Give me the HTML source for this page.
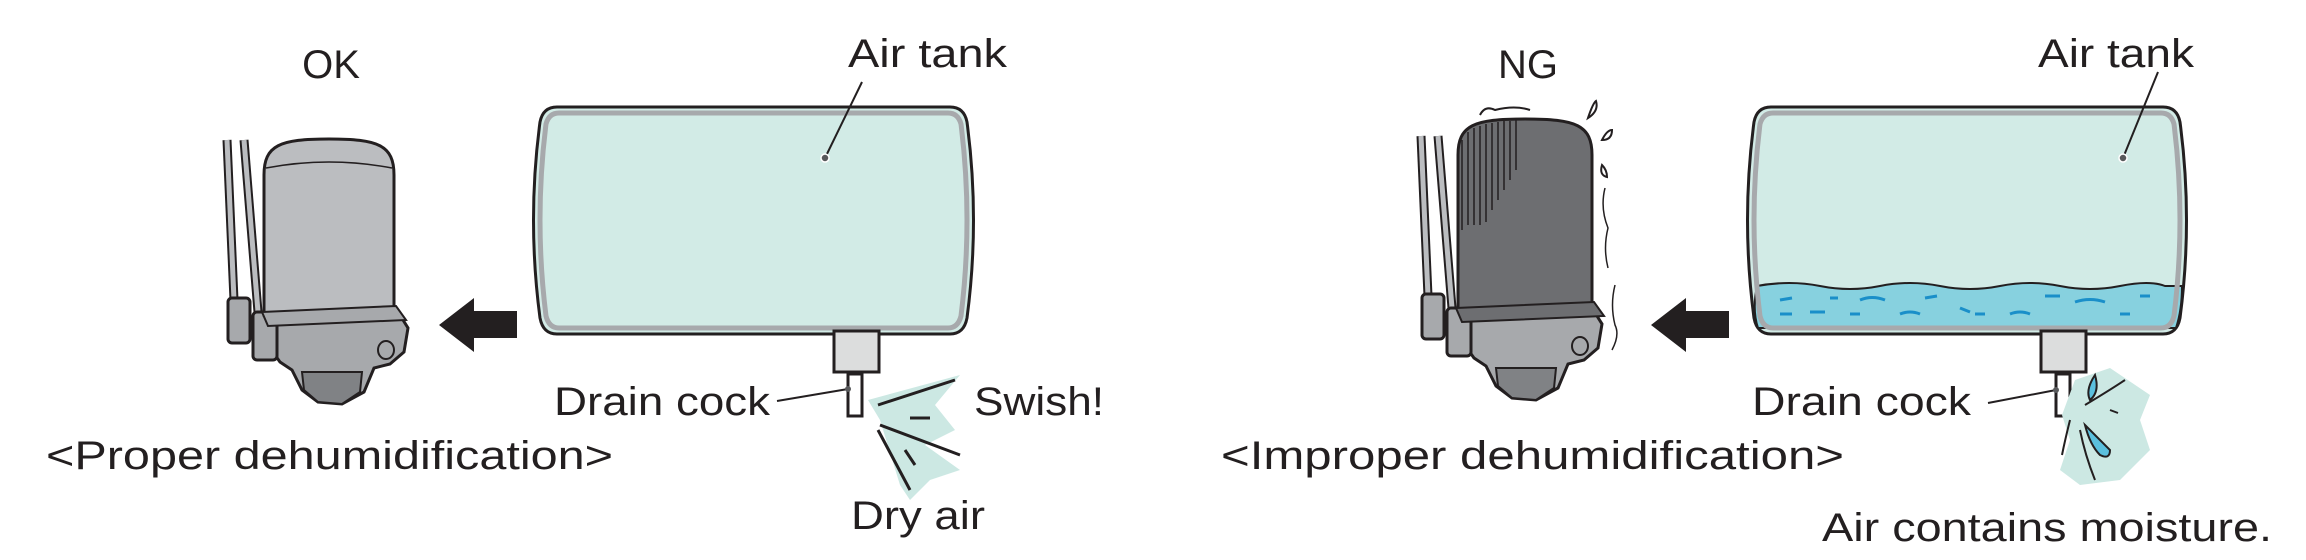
<!DOCTYPE html>
<html><head><meta charset="utf-8"><style>
html,body{margin:0;padding:0;background:#fff;}
svg{display:block;}
text{font-family:"Liberation Sans",sans-serif;font-size:40px;fill:#231f20;}
</style></head><body>
<svg width="2306" height="560" viewBox="0 0 2306 560" xmlns="http://www.w3.org/2000/svg">
<defs>
<g id="pipes">
  <path d="M227,140 L234,300" stroke="#231f20" stroke-width="9" fill="none"/>
  <path d="M227,140 L234,300" stroke="#bbbdc0" stroke-width="5" fill="none"/>
  <path d="M244,140 L258,312" stroke="#231f20" stroke-width="9" fill="none"/>
  <path d="M244,140 L258,312" stroke="#bbbdc0" stroke-width="5" fill="none"/>
</g>
<g id="filterbase">
  <path d="M268,318 L398,312 L408,328 L404,352 L390,364 L374,368 L364,392 L342,404 L318,402 L302,390 L292,370 L280,362 L270,348 Z" fill="#a7a9ac" stroke="#231f20" stroke-width="3"/>
  <path d="M302,372 L362,372 L360,392 L342,404 L318,402 L304,390 Z" fill="#808285" stroke="#231f20" stroke-width="2"/>
  <rect x="228" y="298" width="22" height="45" rx="4" fill="#a7a9ac" stroke="#231f20" stroke-width="3"/>
  <rect x="253" y="312" width="24" height="48" rx="4" fill="#a7a9ac" stroke="#231f20" stroke-width="3"/>
  <ellipse cx="386" cy="350" rx="8" ry="9" fill="none" stroke="#231f20" stroke-width="2"/>
  <circle cx="300" cy="318" r="3" fill="#231f20"/><circle cx="330" cy="316" r="3" fill="#231f20"/><circle cx="360" cy="314" r="3" fill="#231f20"/><circle cx="390" cy="313" r="3" fill="#231f20"/>
</g>
</defs>

<!-- LEFT -->
<text x="331" y="78" text-anchor="middle">OK</text>
<text x="848" y="67" textLength="159" lengthAdjust="spacingAndGlyphs">Air tank</text>
<path d="M557,107 L950,107 Q964,107 967,122 Q980,220 967,318 Q964,334 950,334 L557,334 Q543,334 540,318 Q527,220 540,122 Q543,107 557,107 Z" fill="#d2ebe6" stroke="#231f20" stroke-width="3"/>
<path d="M559,113 L948,113 Q958,113 961,124 Q973,220 961,316 Q958,328 948,328 L559,328 Q549,328 546,316 Q534,220 546,124 Q549,113 559,113 Z" fill="none" stroke="#a7a9ac" stroke-width="5"/>
<path d="M862,82 L825,158" stroke="#231f20" stroke-width="2"/>
<circle cx="825" cy="158" r="4" fill="#58595b" stroke="#fff" stroke-width="1.5"/>
<rect x="834" y="331" width="45" height="41" fill="#dcdddd" stroke="#231f20" stroke-width="3"/>
<rect x="848" y="374" width="14" height="42" fill="#fff" stroke="#231f20" stroke-width="3"/>
<path d="M777,401 L848,389" stroke="#231f20" stroke-width="2"/>
<circle cx="848" cy="389" r="3" fill="#58595b"/>
<path d="M868,400 L960,375 L935,405 L955,430 L925,445 L960,470 L930,480 L920,490 L910,500 L900,485 L880,420 Z" fill="#cce8e3"/>
<path d="M878,405 L955,380 M910,418 L930,418 M880,425 L960,455 M878,430 L910,490 M905,450 L915,465" stroke="#231f20" stroke-width="3"/>
<text x="554" y="415" textLength="216" lengthAdjust="spacingAndGlyphs">Drain cock</text>
<text x="974" y="415" textLength="130" lengthAdjust="spacingAndGlyphs">Swish!</text>
<text x="851" y="529" textLength="134" lengthAdjust="spacingAndGlyphs">Dry air</text>
<text x="46" y="469" textLength="567" lengthAdjust="spacingAndGlyphs">&lt;Proper dehumidification&gt;</text>
<path d="M517,311 L474,311 L474,298 L439,325 L474,352 L474,338 L517,338 Z" fill="#231f20"/>
<use href="#pipes"/>
<use href="#filterbase"/>
<path d="M264,315 L264,175 C264,145 280,139 329,139 C378,139 394,145 394,175 L394,310 Z" fill="#bbbdc0" stroke="#231f20" stroke-width="3"/>
<path d="M266,168 Q329,156 392,168" stroke="#231f20" stroke-width="1.5" fill="none"/>
<path d="M262,312 L396,306 L406,320 L268,326 Z" fill="#a7a9ac" stroke="#231f20" stroke-width="2"/>

<!-- RIGHT -->
<text x="1528" y="78" text-anchor="middle">NG</text>
<text x="2038" y="67" textLength="156" lengthAdjust="spacingAndGlyphs">Air tank</text>
<path d="M1771,107 L2163,107 Q2177,107 2180,122 Q2193,220 2180,318 Q2177,334 2163,334 L1771,334 Q1757,334 1754,318 Q1741,220 1754,122 Q1757,107 1771,107 Z" fill="#d2ebe6" stroke="#231f20" stroke-width="3"/>
<path d="M1757,286 Q1790,280 1820,286 T1880,286 T1940,286 T2000,286 T2060,286 T2120,286 T2165,286 L2182,286 Q2182,310 2176,328 L1758,328 Q1752,310 1757,286 Z" fill="#87d1df" stroke="#231f20" stroke-width="2"/>
<path d="M1773,113 L2161,113 Q2171,113 2174,124 Q2186,220 2174,316 Q2171,328 2161,328 L1773,328 Q1763,328 1760,316 Q1748,220 1760,124 Q1763,113 1773,113 Z" fill="none" stroke="#a7a9ac" stroke-width="5"/>
<path d="M1780,300 l12,-2 M1830,298 l8,0 M1860,300 q12,-5 25,0 M1925,298 l12,-2 M1780,314 l12,0 M1850,314 l10,0 M1900,314 q10,-4 20,0 M2045,296 l15,0 M2075,302 q15,-5 30,0 M2140,296 l10,0 M1810,312 l15,0 M1960,308 l10,4 M1975,314 l10,0 M2010,314 q10,-4 20,0 M2120,314 l10,0" stroke="#1a8fc9" stroke-width="3" fill="none"/>
<path d="M2158,72 L2123,158" stroke="#231f20" stroke-width="2"/>
<circle cx="2123" cy="158" r="4" fill="#58595b" stroke="#fff" stroke-width="1.5"/>
<rect x="2041" y="331" width="45" height="41" fill="#dcdddd" stroke="#231f20" stroke-width="3"/>
<rect x="2056" y="374" width="14" height="42" fill="#fff" stroke="#231f20" stroke-width="3"/>
<path d="M1988,403 L2056,390" stroke="#231f20" stroke-width="2"/>
<circle cx="2056" cy="390" r="3" fill="#58595b"/>
<path d="M2075,380 L2110,368 L2150,395 L2140,420 L2150,450 L2120,480 L2080,485 L2060,470 L2070,440 L2062,415 Z" fill="#cce8e3"/>
<path d="M2095,375 q-10,15 -5,25 q10,-8 5,-25 Z M2085,425 q10,10 25,25 q0,10 -10,5 q-10,-10 -15,-30 Z M2070,420 q-5,20 -8,35" fill="#5bc0de" stroke="#231f20" stroke-width="2"/>
<path d="M2085,405 q25,-15 40,-25 M2110,410 l8,3 M2080,430 q5,25 15,50" stroke="#231f20" stroke-width="2" fill="none"/>
<text x="1752" y="415" textLength="219" lengthAdjust="spacingAndGlyphs">Drain cock</text>
<text x="1221" y="469" textLength="623" lengthAdjust="spacingAndGlyphs">&lt;Improper dehumidification&gt;</text>
<text x="1822" y="541" textLength="450" lengthAdjust="spacingAndGlyphs">Air contains moisture.</text>
<path d="M1729,311 L1686,311 L1686,298 L1651,325 L1686,352 L1686,338 L1729,338 Z" fill="#231f20"/>
<g transform="translate(1194,-4)"><use href="#pipes"/><use href="#filterbase"/></g>
<path d="M1458,310 L1458,155 C1458,125 1474,119 1525,119 C1576,119 1592,125 1592,155 L1592,306 Z" fill="#6d6e71" stroke="#231f20" stroke-width="3"/>
<path d="M1462,140 L1462,230 M1468,132 L1468,225 M1474,128 L1474,225 M1480,126 L1480,225 M1486,124 L1486,222 M1492,123 L1492,210 M1498,122 L1498,200 M1504,121 L1504,190 M1510,121 L1510,180 M1516,120 L1516,170" stroke="#231f20" stroke-width="1.5"/>
<path d="M1456,308 L1594,302 L1604,316 L1462,322 Z" fill="#6d6e71" stroke="#231f20" stroke-width="2"/>
<path d="M1480,115 q5,-10 15,-5 q20,-5 35,0" stroke="#231f20" stroke-width="2" fill="none"/>
<path d="M1588,118 q5,-15 8,-17 q3,10 -8,17 Z M1602,140 q5,-10 10,-10 q0,10 -10,10 Z M1602,165 q5,5 5,12 q-8,-2 -5,-12 Z" fill="#fff" stroke="#231f20" stroke-width="2"/>
<path d="M1605,188 q-5,20 3,40 q-5,20 0,40 M1615,285 q-5,20 0,40 q5,10 -3,25" stroke="#231f20" stroke-width="1.5" fill="none"/>
</svg>
</body></html>
